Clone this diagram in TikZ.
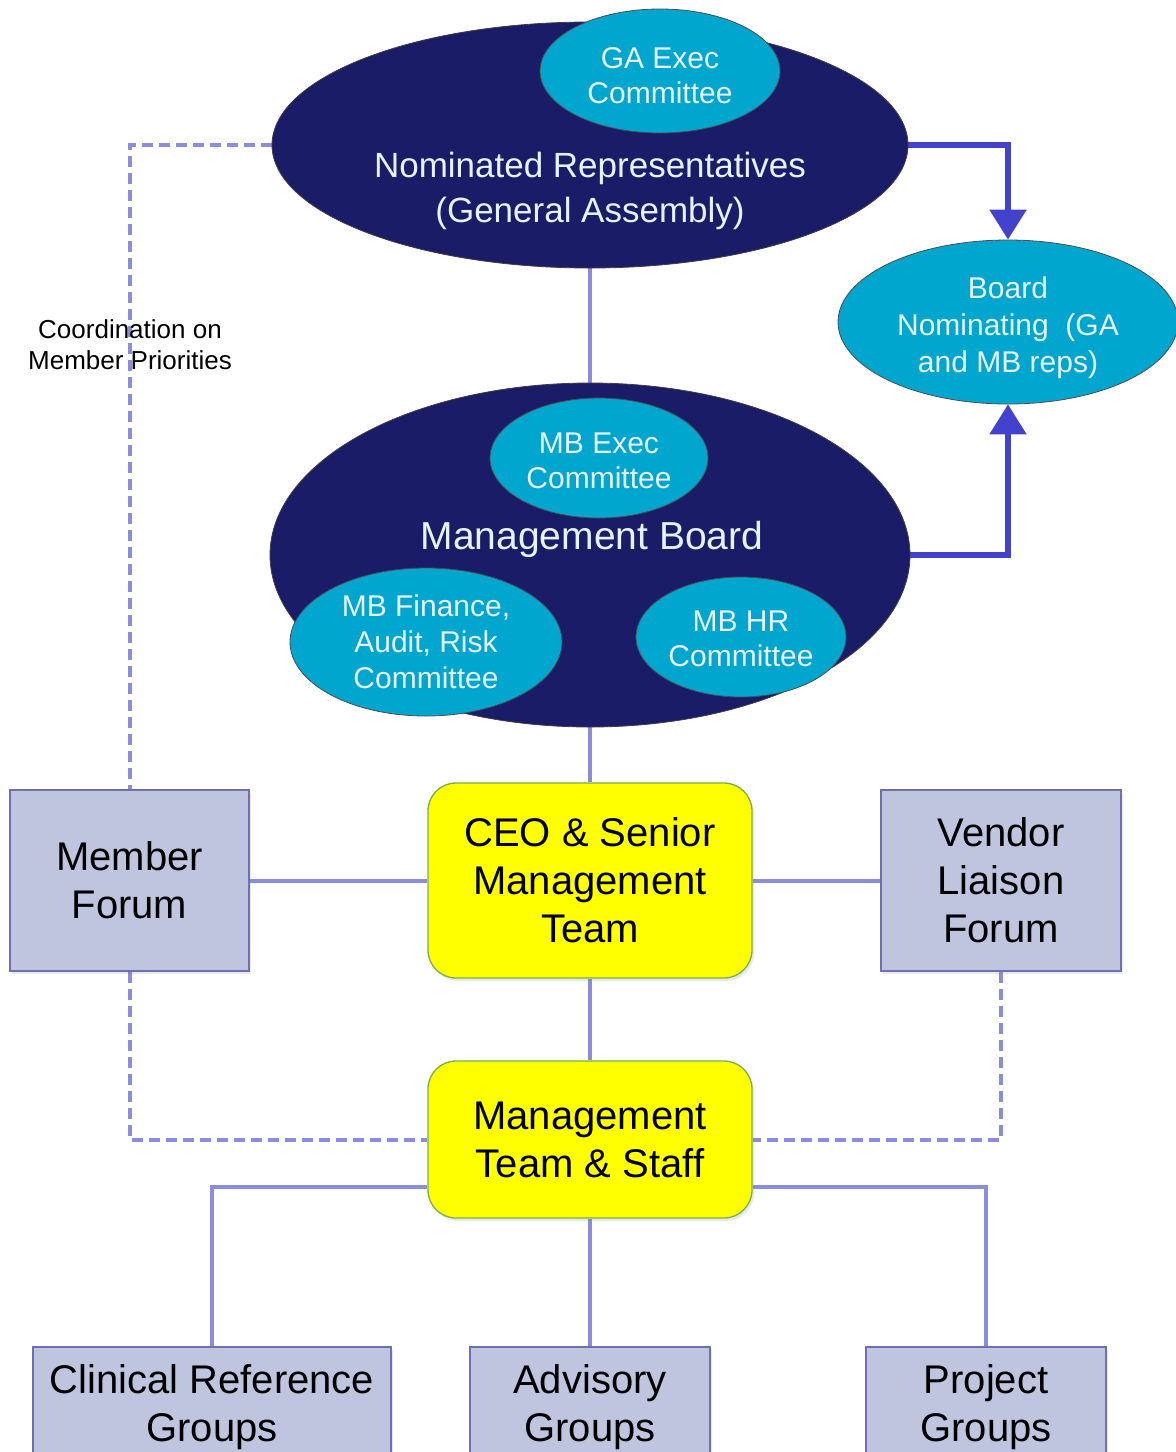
\documentclass[tikz,border=0pt]{standalone}
\usepackage{fontspec}
\setmainfont{Liberation Sans}
\usetikzlibrary{shapes.geometric,arrows.meta,shadows}
\definecolor{navy}{RGB}{27,28,104}
\definecolor{cyanc}{RGB}{0,166,206}
\definecolor{txtw}{RGB}{232,242,250}
\definecolor{linkc}{RGB}{140,140,222}
\definecolor{arrc}{RGB}{66,66,204}
\definecolor{boxfill}{RGB}{191,197,223}
\definecolor{boxedge}{RGB}{110,112,178}
\definecolor{yedge}{RGB}{120,176,70}
\definecolor{yfill}{RGB}{255,255,0}
\pgfdeclarelayer{bg}
\pgfsetlayers{bg,main}
\begin{document}
\begin{tikzpicture}[x=1pt,y=-1pt,
  bigell/.style={ellipse, draw=black!75, line width=0.8pt, fill=navy, inner sep=0pt},
  smallell/.style={ellipse, draw=black!70, line width=0.8pt, fill=cyanc, inner sep=0pt},
  elltext/.style={text=txtw, align=center, inner sep=0pt, font=\fontsize{30}{35}\selectfont},
  bigtext/.style={text=txtw, align=center, inner sep=0pt},
  graybox/.style={rectangle, draw=boxedge, line width=1.3pt, fill=boxfill, align=center, inner sep=0pt, font=\fontsize{40}{48}\selectfont, drop shadow={shadow xshift=2pt, shadow yshift=-3pt, opacity=0.18}},
  yellowbox/.style={rectangle, rounded corners=28pt, draw=yedge, line width=1.3pt, fill=yfill, align=center, inner sep=0pt, font=\fontsize{40}{48}\selectfont, drop shadow={shadow xshift=2pt, shadow yshift=-3pt, opacity=0.18}},
  link/.style={draw=linkc, line width=4pt},
  dlink/.style={draw=linkc, line width=4pt, dash pattern=on 11pt off 6pt},
  arr/.style={draw=arrc, line width=5.5pt, -{Triangle[length=30pt,width=36pt]}}
]
\useasboundingbox (0,0) rectangle (1176,1452);
\clip (0,0) rectangle (1176,1452);

% General Assembly
\node[bigell, minimum width=636pt, minimum height=246pt] (ga) at (590,145) {};
\node[smallell, minimum width=240pt, minimum height=124pt] (gaexec) at (660,71) {};
\node[elltext] (gaexect) at (660,76) {GA Exec\\Committee};
\node[bigtext, font=\fontsize{35}{45}\selectfont] (gatext) at (590,191) {Nominated Representatives\\(General Assembly)};

% Board Nominating
\node[smallell, minimum width=340pt, minimum height=164pt] (bn) at (1008,322) {};
\node[elltext, font=\fontsize{30}{37}\selectfont] (bnt) at (1008,328) {Board\\Nominating~ (GA\\and MB reps)};

% Management Board
\node[bigell, minimum width=640pt, minimum height=344pt] (mb) at (590,555) {};
\node[smallell, minimum width=218pt, minimum height=120pt] (mbexec) at (599,458) {};
\node[elltext] (mbexect) at (599,461) {MB Exec\\Committee};
\node[bigtext, font=\fontsize{39}{45}\selectfont] (mbtext) at (592,539) {Management Board};
\node[smallell, minimum width=272pt, minimum height=148pt] (mbfin) at (426,642) {};
\node[elltext, font=\fontsize{30}{36}\selectfont] (mbfint) at (426,642) {MB Finance,\\Audit, Risk\\Committee};
\node[smallell, minimum width=210pt, minimum height=120pt] (mbhr) at (741,637) {};
\node[elltext] (mbhrt) at (741,639) {MB HR\\Committee};

% Middle tier
\node[yellowbox, minimum width=324pt, minimum height=195pt] (ceo) at (590,880.5) {CEO \& Senior\\Management\\Team};
\node[graybox, minimum width=239pt, minimum height=181pt] (mem) at (129.5,880.5) {Member\\Forum};
\node[graybox, minimum width=240pt, minimum height=181pt] (ven) at (1001,880.5) {Vendor\\Liaison\\Forum};
\node[yellowbox, minimum width=324pt, minimum height=157pt] (mts) at (590,1139.5) {Management\\Team \& Staff};

% Bottom tier
\node[graybox, minimum width=358pt, minimum height=120pt] (crg) at (212,1407) {Clinical Reference\\Groups};
\node[graybox, minimum width=240pt, minimum height=120pt] (adv) at (590,1407) {Advisory\\Groups};
\node[graybox, minimum width=240pt, minimum height=120pt] (prj) at (986,1407) {Project\\Groups};

% Label
\node[align=center, inner sep=0pt, font=\fontsize{26}{31}\selectfont] (coord) at (130,345) {Coordination on\\Member Priorities};

\begin{pgfonlayer}{bg}
\draw[link] (ga.south) -- (mb.north);
\draw[link] (mb.south) -- (ceo.north);
\draw[link] (mem.east) -- (ceo.west);
\draw[link] (ceo.east) -- (ven.west);
\draw[link] (ceo.south) -- (mts.north);
\draw[link] (mts.south) -- (adv.north);
\draw[link] ([yshift=-47pt]mts.west) -| (crg.north);
\draw[link] ([yshift=-47pt]mts.east) -| (prj.north);
\draw[dlink] (ga.west) -| (mem.north);
\draw[dlink] (mem.south) |- (mts.west);
\draw[dlink] (ven.south) |- (mts.east);
\draw[arr] (ga.east) -| (bn.north);
\draw[arr] (mb.east) -| (bn.south);
\end{pgfonlayer}
\end{tikzpicture}
\end{document}
